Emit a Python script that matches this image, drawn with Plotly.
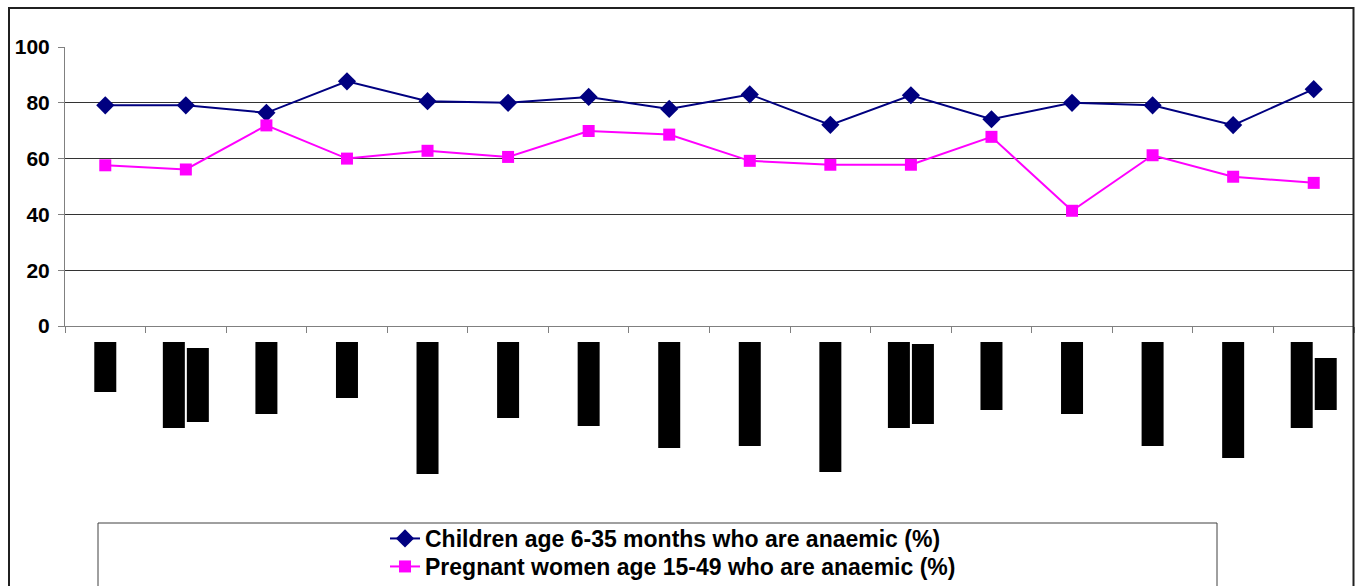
import plotly.graph_objects as go

# ---- data ----
categories = list(range(16))  # category labels are redacted (shown as black blocks)
children_anaemic = [79.1, 79.1, 76.4, 87.7, 80.6, 80.0, 82.1, 77.8, 83.0, 72.1,
                    82.7, 74.1, 80.0, 79.1, 72.0, 84.9]
pregnant_anaemic = [57.6, 56.1, 71.9, 60.0, 62.8, 60.6, 69.9, 68.6, 59.2, 57.8,
                    57.8, 67.8, 41.3, 61.2, 53.5, 51.3]
# redacted category label blocks (pixel lengths below the axis)
label_line1_length = [50, 86, 72, 56, 132, 76, 84, 106, 104, 130, 86, 68, 72, 104, 116, 86]
label_line2_index = [1, 10, 15]
label_line2_start = [22, 18, 32]
label_line2_length = [74, 80, 52]
y_ticks = [0, 20, 40, 60, 80, 100]

FONT = "Liberation Sans, Arial, sans-serif"
NAVY = "#000080"
MAGENTA = "#FF00FF"

W, H = 1355, 586
L, R, T, B = 65, 1, 47, 106
PW, PH = W - L - R, H - T - B
axis_px = 326
below_px = (H - B) - axis_px  # pixels of the lower (label) band
split = below_px / PH


def px_x(page_x):
    return (page_x - L) / PW


def px_y(page_y):
    return ((H - B) - page_y) / PH


fig = go.Figure()

fig.add_trace(go.Scatter(
    x=categories, y=children_anaemic, mode="lines+markers",
    name="Children age 6-35 months who are anaemic (%)",
    line=dict(color=NAVY, width=2),
    marker=dict(symbol="diamond", size=14, color=NAVY),
    legend="legend",
))
fig.add_trace(go.Scatter(
    x=categories, y=pregnant_anaemic, mode="lines+markers",
    name="Pregnant women age 15-49 who are anaemic (%)",
    line=dict(color=MAGENTA, width=2),
    marker=dict(symbol="square", size=12, color=MAGENTA),
    legend="legend2",
))

# redacted label blocks
off = 0.149
bw = 0.273
x1 = [c - off if c in label_line2_index else c for c in categories]
fig.add_trace(go.Bar(
    x=x1, y=label_line1_length, base=[16] * len(categories),
    width=bw, marker=dict(color="black", line=dict(width=0)),
    yaxis="y2", showlegend=False, hoverinfo="skip",
))
fig.add_trace(go.Bar(
    x=[categories[i] + off for i in label_line2_index], y=label_line2_length,
    base=label_line2_start, width=bw,
    marker=dict(color="black", line=dict(width=0)),
    yaxis="y2", showlegend=False, hoverinfo="skip",
))

legend_style = dict(
    x=px_x(385), xanchor="left", yanchor="top",
    font=dict(family=FONT, size=23, color="black", weight="bold"),
    bgcolor="rgba(0,0,0,0)", borderwidth=0,
)

fig.update_layout(
    width=W, height=H,
    margin=dict(l=L, r=R, t=T, b=B, autoexpand=False),
    paper_bgcolor="white", plot_bgcolor="white",
    barmode="overlay",
    xaxis=dict(
        range=[-0.5, 15.5], tickvals=[i - 0.5 for i in range(17)],
        showticklabels=False, ticks="outside", ticklen=6, tickcolor="#808080",
        showgrid=False, zeroline=False, showline=True, linecolor="#808080",
        linewidth=1, anchor="y",
    ),
    yaxis=dict(
        domain=[split, 1], range=[0, 100], tickvals=y_ticks,
        ticks="outside", ticklen=6, tickcolor="#808080",
        showline=True, linecolor="#808080", linewidth=1,
        showgrid=True, gridcolor="#333333", gridwidth=1, zeroline=False,
        tickfont=dict(family=FONT, size=21, color="black", weight="bold"),
        ticklabelstandoff=4,
    ),
    yaxis2=dict(
        domain=[0, split], range=[below_px, 0], visible=False, anchor="x",
    ),
    legend=dict(y=px_y(517), **legend_style),
    legend2=dict(y=px_y(545), **legend_style),
    shapes=[
        # legend frame
        dict(type="rect", xref="paper", yref="paper",
             x0=px_x(98), x1=px_x(1217),
             y0=px_y(600), y1=px_y(523),
             line=dict(color="#404040", width=1), fillcolor="rgba(0,0,0,0)"),
        # chart frame
        dict(type="rect", xref="paper", yref="paper",
             x0=px_x(9), x1=px_x(1353.5),
             y0=px_y(600), y1=px_y(8),
             line=dict(color="#202020", width=2), fillcolor="rgba(0,0,0,0)"),
    ],
)

fig.write_html(
    "out.html",
    config={"displayModeBar": False},
    post_script="document.body.style.margin='0';document.body.style.overflow='hidden';",
)
